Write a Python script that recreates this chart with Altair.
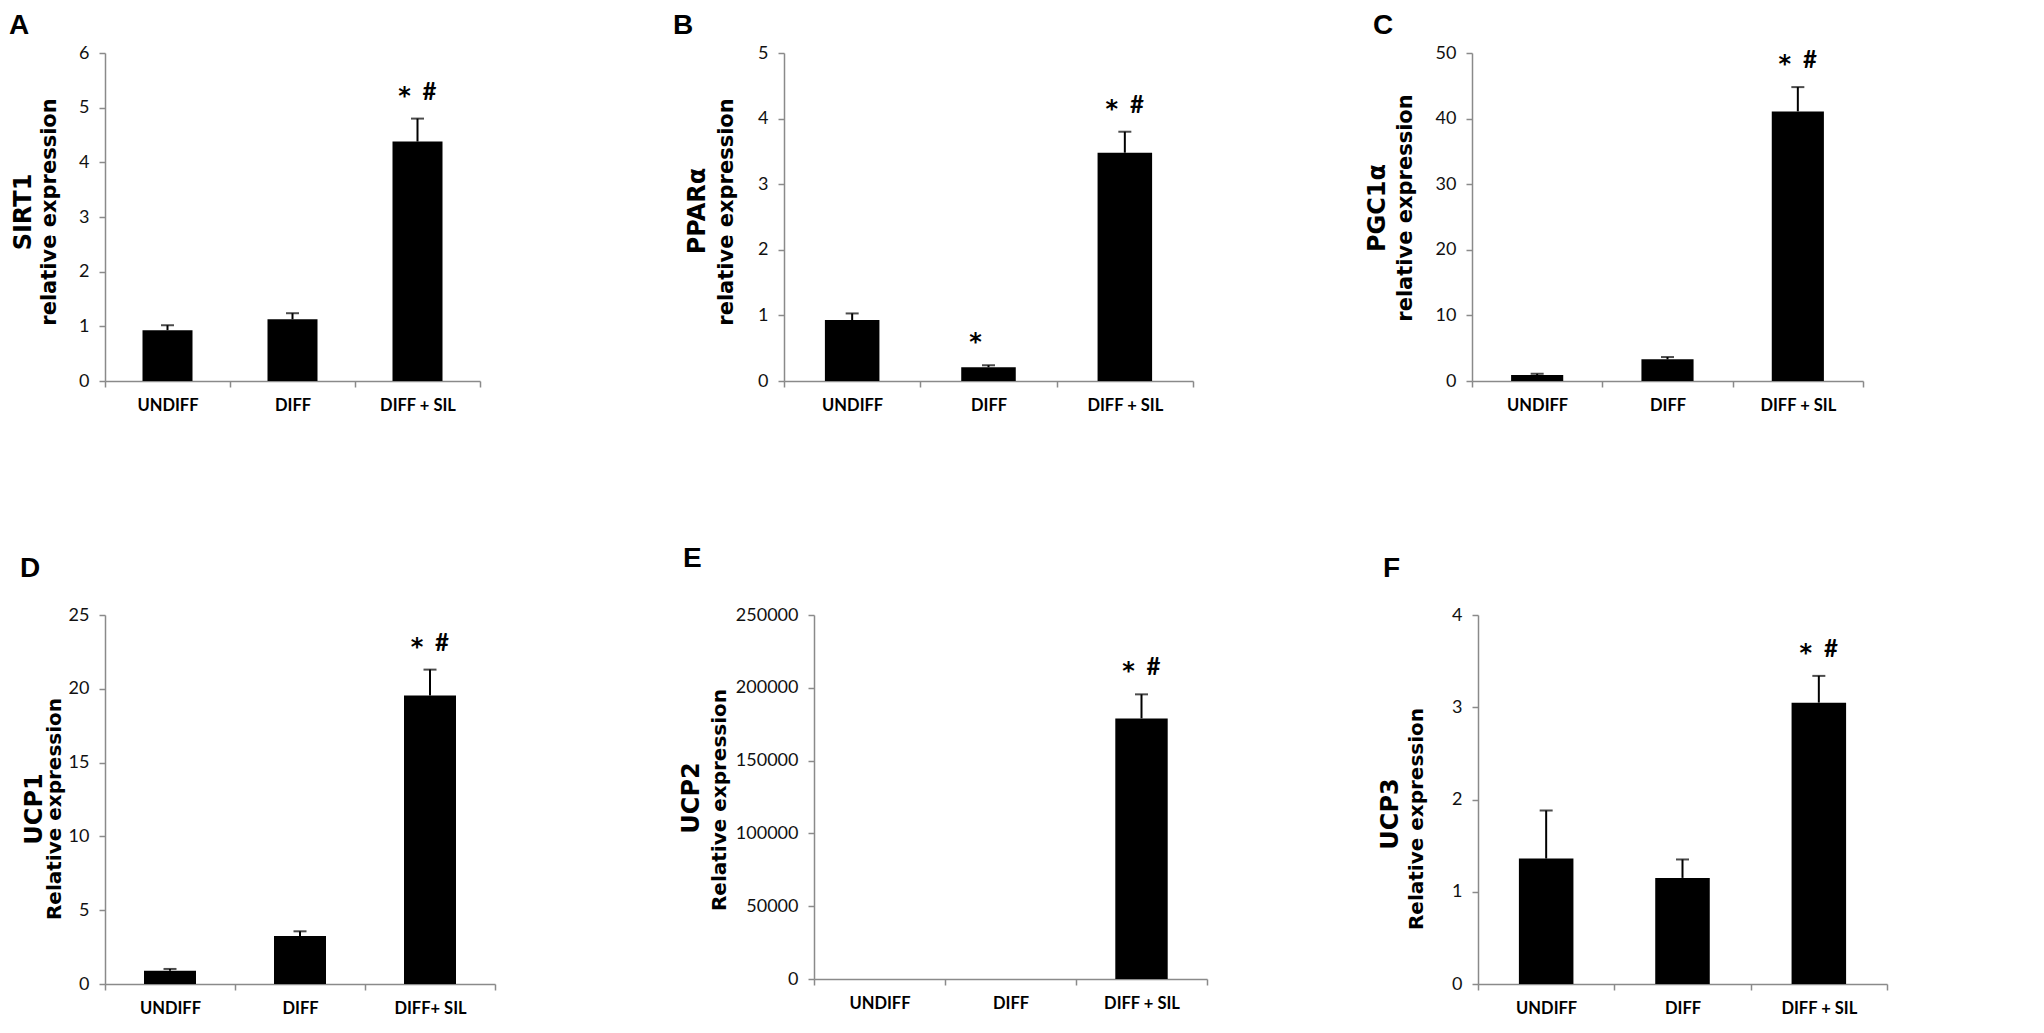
import altair as alt
import pandas as pd

# ---------------- data ----------------
categories = ["UNDIFF", "DIFF", "DIFF + SIL"]
categories_ucp1 = ["UNDIFF", "DIFF", "DIFF+ SIL"]

sirt1_mean = [0.93, 1.13, 4.38]
sirt1_err = [1.02, 1.24, 4.80]
ppara_mean = [0.93, 0.21, 3.48]
ppara_err = [1.03, 0.24, 3.80]
pgc1a_mean = [0.92, 3.30, 41.1]
pgc1a_err = [1.10, 3.65, 44.8]
ucp1_mean = [0.90, 3.26, 19.55]
ucp1_err = [1.02, 3.57, 21.3]
ucp2_mean = [1.0, 3.0, 179000]
ucp2_err = [None, None, 195500]
ucp3_mean = [1.36, 1.15, 3.05]
ucp3_err = [1.88, 1.35, 3.34]

stars_default = ["", "", "*"]
stars_ppara = ["", "*", "*"]
hashes = ["", "", "#"]

ticks_sirt1 = [0, 1, 2, 3, 4, 5, 6]
ticks_ppara = [0, 1, 2, 3, 4, 5]
ticks_pgc1a = [0, 10, 20, 30, 40, 50]
ticks_ucp1 = [0, 5, 10, 15, 20, 25]
ticks_ucp2 = [0, 50000, 100000, 150000, 200000, 250000]
ticks_ucp3 = [0, 1, 2, 3, 4]

panels = [
    dict(letter="A", gene="SIRT1", ylab="relative expression", cats=categories,
         mean=sirt1_mean, err=sirt1_err, star=stars_default, hash=hashes, ticks=ticks_sirt1),
    dict(letter="B", gene="PPARα", ylab="relative expression", cats=categories,
         mean=ppara_mean, err=ppara_err, star=stars_ppara, hash=hashes, ticks=ticks_ppara),
    dict(letter="C", gene="PGC1α", ylab="relative expression", cats=categories,
         mean=pgc1a_mean, err=pgc1a_err, star=stars_default, hash=hashes, ticks=ticks_pgc1a),
    dict(letter="D", gene="UCP1", ylab="Relative expression", cats=categories_ucp1,
         mean=ucp1_mean, err=ucp1_err, star=stars_default, hash=hashes, ticks=ticks_ucp1),
    dict(letter="E", gene="UCP2", ylab="Relative expression", cats=categories,
         mean=ucp2_mean, err=ucp2_err, star=stars_default, hash=hashes, ticks=ticks_ucp2),
    dict(letter="F", gene="UCP3", ylab="Relative expression", cats=categories,
         mean=ucp3_mean, err=ucp3_err, star=stars_default, hash=hashes, ticks=ticks_ucp3),
]

# ---------------- layout (page pixels) ----------------
# plot left/top, width/height; offsets of letter (ink left, cap top), gene & ylab
# (baseline x, centre y) relative to the plot's top-left corner
geo = [
    dict(left=105, top=53, w=375, h=328, letter=(-96, -39), gene=(-74, 159), ylab=(-49, 159), ylsize=21),
    dict(left=784, top=53, w=409, h=328, letter=(-111, -39), gene=(-79, 158), ylab=(-51, 159), ylsize=21),
    dict(left=1472, top=53, w=391, h=328, letter=(-99, -39), gene=(-87, 155), ylab=(-60, 155), ylsize=21),
    dict(left=94, top=608, w=390, h=369, letter=(-85, -58), gene=(-63, 194), ylab=(-44, 194), ylsize=20),
    dict(left=803, top=615, w=393, h=364, letter=(-131, -68), gene=(-115, 183), ylab=(-88, 185), ylsize=20),
    dict(left=1467, top=608, w=409, h=369, letter=(-95, -58), gene=(-80, 199), ylab=(-55, 204), ylsize=20),
]
ROW1_BOTTOM_EXTRA = 42
ROW2_BOTTOM_EXTRA = 40
MARGIN = 8

AX = "#8a8a8a"
TICK_FONT = "Lato"
TITLE_FONT = "DejaVu Sans"


def panel(p, g, K, T, B):
    df = pd.DataFrame({
        "cat": p["cats"], "mean": p["mean"], "err": p["err"],
        "star": p["star"], "hash": p["hash"],
    })
    W, H = g["w"], g["h"]
    x = alt.X(
        "cat:N", sort=p["cats"],
        scale=alt.Scale(paddingInner=0, paddingOuter=0),
        axis=alt.Axis(
            title=None, labelAngle=0, tickBand="extent", labelFont=TICK_FONT,
            labelFontWeight="bold", labelFontSize=16.5, labelColor="#000000",
            domainColor=AX, tickColor=AX, domainWidth=1.5, tickWidth=1.5,
            tickSize=6, labelPadding=10,
        ),
    )
    yscale = alt.Scale(domain=[0, p["ticks"][-1]], nice=False, zero=True)
    yaxis = alt.Axis(
        title=None, values=p["ticks"], format="d", grid=False,
        labelFont=TICK_FONT, labelFontSize=18, labelColor="#111111",
        domainColor=AX, tickColor=AX, domainWidth=1.5, tickWidth=1.5,
        tickSize=6, labelPadding=10,
    )
    base = alt.Chart(df)
    bars = base.mark_bar(color="#000000", width={"band": 0.4}).encode(
        x=x, y=alt.Y("mean:Q", scale=yscale, axis=yaxis)
    )
    eb = base.transform_filter("isValid(datum.err)")
    rule = eb.mark_rule(color="#000000", strokeWidth=2).encode(
        x=x, y=alt.Y("mean:Q", scale=yscale, axis=yaxis), y2="err:Q"
    )
    cap = eb.mark_tick(color="#000000", size=13, thickness=2, orient="horizontal").encode(
        x=x, y=alt.Y("err:Q", scale=yscale, axis=yaxis)
    )
    star = eb.mark_text(font=TITLE_FONT, fontWeight="bold", fontSize=24, dx=-13, dy=-22,
                        baseline="middle", color="#000000").encode(
        x=x, y=alt.Y("err:Q", scale=yscale, axis=yaxis), text="star:N"
    )
    hsh = eb.mark_text(font="Lato", fontWeight="bold", fontSize=24, dx=12, dy=-26,
                       baseline="middle", color="#000000").encode(
        x=x, y=alt.Y("err:Q", scale=yscale, axis=yaxis), text="hash:N"
    )
    letter = alt.Chart(pd.DataFrame({"t": [p["letter"]]})).mark_text(
        font="Liberation Sans", fontWeight="bold", fontSize=28, align="left",
        baseline="alphabetic", color="#000000"
    ).encode(text="t:N", x=alt.value(g["letter"][0]), y=alt.value(g["letter"][1] + 20))
    gene = alt.Chart(pd.DataFrame({"t": [p["gene"]]})).mark_text(
        font=TITLE_FONT, fontWeight="bold", fontSize=24, angle=270, align="center",
        baseline="alphabetic", color="#000000"
    ).encode(text="t:N", x=alt.value(g["gene"][0]), y=alt.value(g["gene"][1]))
    ylab = alt.Chart(pd.DataFrame({"t": [p["ylab"]]})).mark_text(
        font=TITLE_FONT, fontWeight="bold", fontSize=g["ylsize"], angle=270, align="center",
        baseline="alphabetic", color="#000000"
    ).encode(text="t:N", x=alt.value(g["ylab"][0]), y=alt.value(g["ylab"][1]))
    anchor = alt.Chart(pd.DataFrame({"a": [0]})).mark_rule(strokeOpacity=0, strokeWidth=1).encode(
        x=alt.value(-K), x2=alt.value(W + 2), y=alt.value(-T), y2=alt.value(H + B)
    )
    return alt.layer(bars, rule, cap, star, hsh, letter, gene, ylab, anchor).properties(
        width=W, height=H
    )


def build_row(idx, top_of_row, bottom_extra):
    charts = []
    bound_left = MARGIN
    for i in idx:
        g = geo[i]
        K = g["left"] - bound_left
        T = g["top"] - top_of_row
        charts.append(panel(panels[i], g, K, T, bottom_extra))
        bound_left = g["left"] + g["w"] + 2
    return alt.hconcat(*charts, spacing=0)


row1 = build_row([0, 1, 2], MARGIN, ROW1_BOTTOM_EXTRA)
row2_top = geo[0]["top"] + geo[0]["h"] + ROW1_BOTTOM_EXTRA
row2 = build_row([3, 4, 5], row2_top, ROW2_BOTTOM_EXTRA)

chart = (
    alt.vconcat(row1, row2, spacing=0)
    .properties(padding=0, background="#ffffff")
    .configure_view(strokeOpacity=0)
)

chart.save("out.html", embed_options={"renderer": "svg", "actions": False})
